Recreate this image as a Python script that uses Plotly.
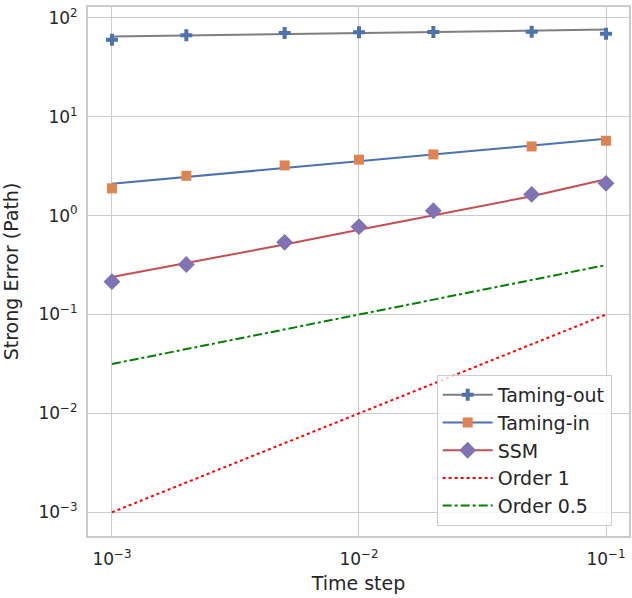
import plotly.graph_objects as go

# time steps
dt = [0.001, 0.002, 0.005, 0.01, 0.02, 0.05, 0.1]

# measured strong errors (markers)
taming_out = [60, 66.7, 70.5, 71.7, 72, 72.3, 69]
taming_in = [1.89, 2.53, 3.22, 3.68, 4.16, 5.01, 5.72]
ssm = [0.215, 0.320, 0.537, 0.774, 1.12, 1.64, 2.12]

# fitted lines
fit_out = [64.7, 66.4, 68.6, 70.3, 72.0, 74.4, 76.2]
fit_in = [2.10, 2.46, 3.03, 3.55, 4.16, 5.12, 6.00]
fit_ssm = [0.24, 0.33, 0.51, 0.72, 1.00, 1.57, 2.33]

# reference slopes
order1 = [0.001, 0.002, 0.005, 0.01, 0.02, 0.05, 0.1]
order05 = [0.0316, 0.0447, 0.0707, 0.1, 0.1414, 0.2236, 0.3162]

# tick labels
x_tickvals = [0.001, 0.01, 0.1]
x_ticktext = ["10<sup>\u22123</sup>", "10<sup>\u22122</sup>", "10<sup>\u22121</sup>"]
y_tickvals = [0.001, 0.01, 0.1, 1, 10, 100]
y_ticktext = ["10<sup>\u22123</sup>", "10<sup>\u22122</sup>", "10<sup>\u22121</sup>",
              "10<sup>0</sup>", "10<sup>1</sup>", "10<sup>2</sup>"]

BLUE = "#4c72b0"
ORANGE = "#dd8452"
RED = "#c44e52"
PURPLE = "#8172b3"
GRAY = "#7f7f7f"
TXT = "#262626"

fig = go.Figure()

series = [
    ("Taming-out", fit_out, taming_out, GRAY, BLUE, "cross", 10),
    ("Taming-in", fit_in, taming_in, BLUE, ORANGE, "square", 10),
    ("SSM", fit_ssm, ssm, RED, PURPLE, "diamond", 13),
]

for name, fit, vals, lcol, mcol, sym, msz in series:
    marker = dict(color=mcol, symbol=sym, size=msz, line=dict(width=0))
    fig.add_trace(go.Scatter(x=dt, y=fit, mode="lines", line=dict(color=lcol, width=2),
                             showlegend=False, hoverinfo="skip"))
    fig.add_trace(go.Scatter(x=dt, y=vals, mode="markers", marker=marker, showlegend=False))
    # legend entry only
    fig.add_trace(go.Scatter(x=[None], y=[None], mode="lines+markers", name=name,
                             line=dict(color=lcol, width=2), marker=marker))

fig.add_trace(go.Scatter(x=dt, y=order1, mode="lines", name="Order 1",
                         line=dict(color="red", width=2, dash="dot")))
fig.add_trace(go.Scatter(x=dt, y=order05, mode="lines", name="Order 0.5",
                         line=dict(color="green", width=2, dash="dashdot")))

axis_common = dict(
    type="log", showgrid=True, gridcolor="#cccccc", automargin=False,
    gridwidth=1, zeroline=False, showline=True, linecolor="#cccccc", linewidth=2,
    mirror=True, ticks="", tickfont=dict(size=17, color=TXT),
    title_font=dict(size=19, color=TXT),
)

fig.update_xaxes(axis_common, range=[-3.097, -0.907], title_text="Time step",
                 tickvals=x_tickvals, ticktext=x_ticktext,
                 ticklabelstandoff=7, title_standoff=8)
fig.update_yaxes(axis_common, range=[-3.24, 2.11], title_text="Strong Error (Path)",
                 tickvals=y_tickvals, ticktext=y_ticktext,
                 ticklabelstandoff=5, title_standoff=18)

fig.update_layout(
    width=632, height=598,
    margin=dict(l=88, r=3, t=7, b=62),
    plot_bgcolor="white", paper_bgcolor="white",
    font=dict(family="DejaVu Sans", color=TXT),
    legend=dict(x=0.968, y=0.019, xanchor="right", yanchor="bottom",
                bgcolor="rgba(255,255,255,0.8)", bordercolor="#cccccc", borderwidth=1,
                font=dict(family="DejaVu Sans", size=19, color=TXT), itemwidth=50),
)

# drop the default page margin so the figure sits at the window corner
fig.write_html("out.html", config={"displayModeBar": False},
               post_script="document.body.style.margin='0';")
